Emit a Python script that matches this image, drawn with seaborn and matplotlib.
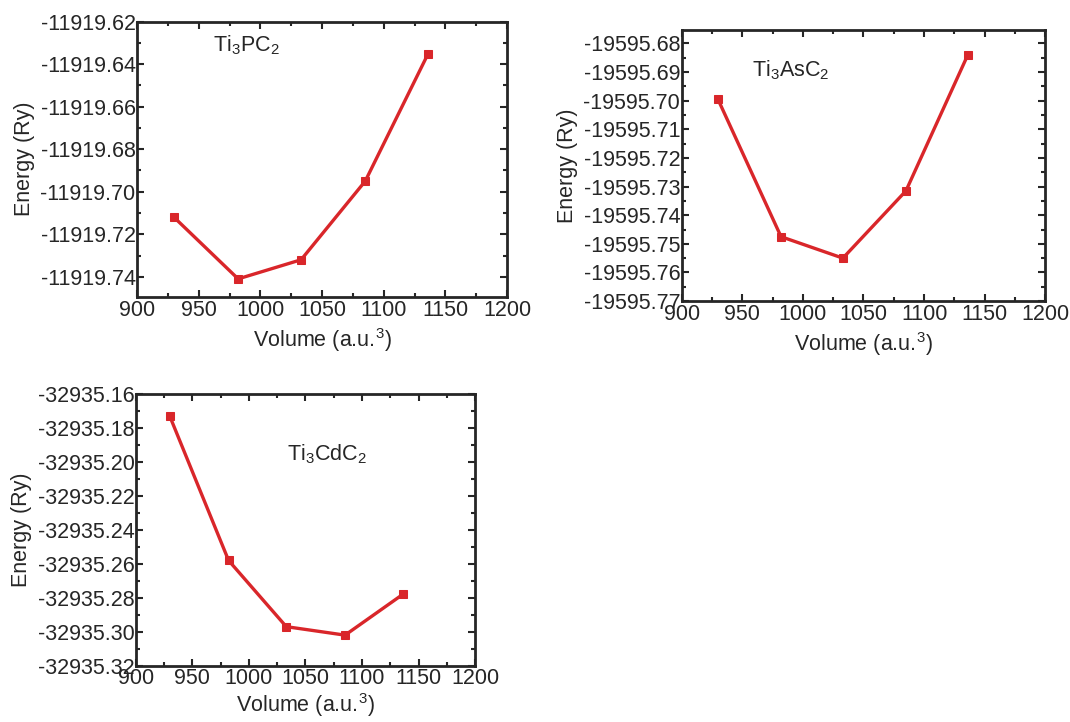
import matplotlib
matplotlib.use('Agg')
import matplotlib.pyplot as plt
import seaborn as sns
from matplotlib.ticker import MultipleLocator, FormatStrFormatter

# volumes shared by all three compounds
volume = [930, 982, 1033, 1085, 1136]

# total energies (Ry)
e_ti3pc2 = [-11919.712, -11919.741, -11919.732, -11919.695, -11919.635]
e_ti3asc2 = [-19595.6995, -19595.7475, -19595.755, -19595.7315, -19595.684]
e_ti3cdc2 = [-32935.173, -32935.258, -32935.297, -32935.302, -32935.278]

labels = [r'$\mathregular{Ti_3PC_2}$', r'$\mathregular{Ti_3AsC_2}$', r'$\mathregular{Ti_3CdC_2}$']

sns.set_style('ticks')
plt.rcParams['font.family'] = ['Liberation Sans', 'DejaVu Sans']
plt.rcParams['mathtext.fontset'] = 'custom'
plt.rcParams['mathtext.rm'] = 'Liberation Sans'
plt.rcParams['mathtext.it'] = 'Liberation Sans:italic'

fig = plt.figure(figsize=(10.7, 7.22), dpi=100)

# panel layout in figure fractions, plus axis setup
panels = [
    dict(rect=[0.128, 0.589, 0.346, 0.381], y=e_ti3pc2, ylim=(-11919.7494, -11919.62),
         ymaj=0.02, ymin=0.01, txt=(962, -11919.631), xpad=4),
    dict(rect=[0.637, 0.583, 0.340, 0.375], y=e_ti3asc2, ylim=(-19595.77, -19595.6754),
         ymaj=0.01, ymin=0.005, txt=(958, -19595.6895), xpad=4),
    dict(rect=[0.127, 0.078, 0.317, 0.376], y=e_ti3cdc2, ylim=(-32935.32, -32935.16),
         ymaj=0.02, ymin=0.01, txt=(1034, -32935.1955), xpad=1),
]

red = '#d9262a'
fs = 15.5

for p, lab in zip(panels, labels):
    ax = fig.add_axes(p['rect'])
    sns.lineplot(x=volume, y=p['y'], ax=ax, color=red, marker='s', markersize=5.5,
                 markeredgecolor=red, linewidth=2.4)
    ax.set_xlim(900, 1200)
    ax.set_ylim(*p['ylim'])
    ax.xaxis.set_major_locator(MultipleLocator(50))
    ax.xaxis.set_minor_locator(MultipleLocator(25))
    ax.yaxis.set_major_locator(MultipleLocator(p['ymaj']))
    ax.yaxis.set_minor_locator(MultipleLocator(p['ymin']))
    ax.yaxis.set_major_formatter(FormatStrFormatter('%.2f'))
    ax.tick_params(which='both', direction='in', top=True, right=True, width=1.5)
    ax.tick_params(which='major', length=5, labelsize=fs, pad=1)
    ax.tick_params(axis='x', which='major', pad=2)
    ax.tick_params(which='minor', length=3)
    for s in ax.spines.values():
        s.set_linewidth(2)
    ax.set_xlabel(r'Volume (a.u.$^3$)', size=fs, labelpad=p['xpad'])
    ax.set_ylabel('Energy (Ry)', size=fs, labelpad=4)
    ax.text(p['txt'][0], p['txt'][1], lab, size=fs, va='center', ha='left')

plt.savefig('out.png', dpi=100)
